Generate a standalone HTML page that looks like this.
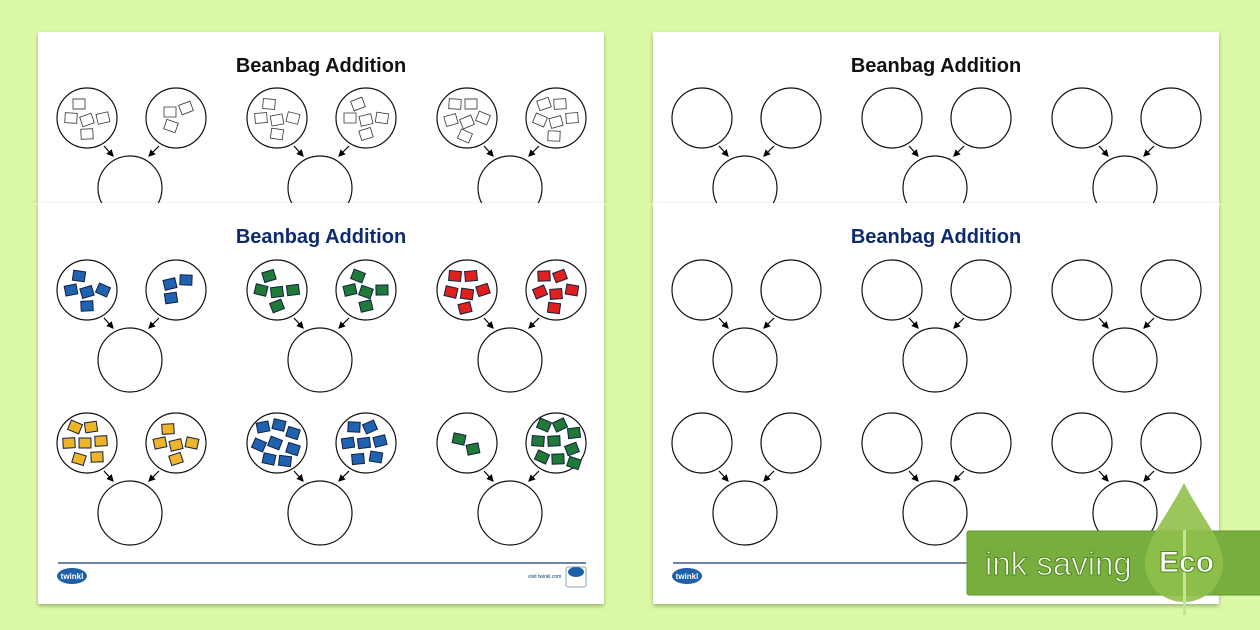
<!DOCTYPE html>
<html><head><meta charset="utf-8"><style>
body{margin:0;width:1260px;height:630px;overflow:hidden;background:#dcf9a8;}
svg{display:block}
text{font-family:"Liberation Sans",sans-serif}
</style></head><body>
<svg id="s" width="1260" height="630" viewBox="0 0 1260 630" xmlns="http://www.w3.org/2000/svg">
<defs>
<filter id="sh" x="-5%" y="-5%" width="110%" height="115%"><feDropShadow dx="0" dy="2" stdDeviation="2" flood-color="#556b2f" flood-opacity="0.5"/></filter>
<marker id="ar" markerWidth="6" markerHeight="6" refX="5" refY="3" orient="auto"><path d="M0,0 L6,3 L0,6 z" fill="#000"/></marker>
</defs>
<g id="back"></g>
<g id="front"></g>
<g id="eco">
<rect x="967" y="531" width="300" height="64" rx="2" fill="#78ae3e" stroke="#5f9a2a"/>
<path d="M1184,483 C1200,515 1223,540 1223,563 C1223,585 1206,602 1184,602 C1162,602 1145,585 1145,563 C1145,540 1168,515 1184,483 z" fill="#8fc04a" opacity="0.9"/>
<rect x="1183" y="530" width="3" height="85" fill="#c7e29a"/>
<text x="985" y="575" font-size="33" fill="#fff" stroke="#4f8a1e" stroke-width="1">ink saving</text>
<text x="1159" y="572" font-size="30" font-weight="bold" fill="#fff" stroke="#4f8a1e" stroke-width="1">Eco</text>
</g>
</svg>
<script>
const NS="http://www.w3.org/2000/svg";
function el(p,t,a){const e=document.createElementNS(NS,t);for(const k in a)e.setAttribute(k,a[k]);p.appendChild(e);return e;}
let seed=7;function rnd(){seed=(seed*9301+49297)%233280;return seed/233280;}
const pos={2:[[-8,-4],[6,6]],3:[[-6,-6],[10,-10],[-5,8]],5:[[-8,-14],[-16,0],[0,2],[16,0],[0,16]],6:[[-12,-14],[4,-14],[-16,2],[0,4],[16,0],[-2,18]],7:[[-12,-16],[4,-16],[-18,0],[-2,0],[14,-2],[-8,16],[10,14]],8:[[-14,-16],[2,-18],[16,-10],[-18,2],[-2,0],[16,6],[-8,16],[8,18]],9:[[-12,-18],[4,-18],[18,-10],[-18,-2],[-2,-2],[16,6],[-14,14],[2,16],[18,20]]};
function bags(g,cx,cy,n,col){for(const [dx,dy] of pos[n]){const a=(rnd()-0.5)*50;const r=el(g,"rect",{x:cx+dx-6,y:cy+dy-5,width:12,height:10,transform:`rotate(${a} ${cx+dx} ${cy+dy})`,fill:col||"#fff",stroke:col?"#102040":"#333","stroke-width":col?1:0.8});}}
function group(g,x0,y0,spec){
 const L=x0,R=x0+89,B=x0+43;
 el(g,"circle",{cx:L,cy:y0,r:30,fill:"#fff",stroke:"#111","stroke-width":1.2});
 el(g,"circle",{cx:R,cy:y0,r:30,fill:"#fff",stroke:"#111","stroke-width":1.2});
 el(g,"circle",{cx:B,cy:y0+70,r:32,fill:"#fff",stroke:"#111","stroke-width":1.2});
 el(g,"line",{x1:L+17,y1:y0+28,x2:L+26,y2:y0+38,stroke:"#000","stroke-width":1.2,"marker-end":"url(#ar)"});
 el(g,"line",{x1:R-17,y1:y0+28,x2:R-27,y2:y0+38,stroke:"#000","stroke-width":1.2,"marker-end":"url(#ar)"});
 if(spec){bags(g,L,y0,spec[0],spec[2]);bags(g,R,y0,spec[1],spec[2]);}
}
function page(g,x,y,h,title,tcol,rows,specs,footer){
 el(g,"rect",{x:x,y:y,width:566,height:h,fill:"#fff",filter:"url(#sh)"});
 const t=el(g,"text",{x:x+283,y:y+40,"text-anchor":"middle","font-size":20,"font-weight":"bold",fill:tcol});t.textContent=title;
 rows.forEach((ry,ri)=>{for(let k=0;k<3;k++)group(g,x+49+190*k,y+ry,specs?specs[ri][k]:null);});
 if(footer){el(g,"line",{x1:x+20,y1:y+360,x2:x+548,y2:y+360,stroke:"#1a3a6a","stroke-width":1.2});
  el(g,"ellipse",{cx:x+34,cy:y+373,rx:15,ry:8,fill:"#1d5fa8"});
  const tw=el(g,"text",{x:x+34,y:y+376,"text-anchor":"middle","font-size":8,"font-weight":"bold",fill:"#fff"});tw.textContent="twinkl";}
}
const b=document.getElementById("back"),f=document.getElementById("front");
const outl=[[[5,3],[5,5],[6,6]]];
const col=[[[5,3,"#1f63b0"],[5,5,"#1e7a36"],[6,6,"#e0201c"]],[[7,5,"#f0b428"],[8,7,"#1f63b0"],[2,9,"#1e7a36"]]];
// back pages
const cp=el(b,"clipPath",{id:"cb"});el(cp,"rect",{x:0,y:0,width:1260,height:203});
const bg=el(b,"g",{"clip-path":"url(#cb)"});
page(bg,38,32,260,"Beanbag Addition","#111",[86],outl,false);
page(bg,653,32,260,"Beanbag Addition","#111",[86],null,false);
page(f,38,203,401,"Beanbag Addition","#0e2a6e",[87,240],col,true);
page(f,653,203,401,"Beanbag Addition","#0e2a6e",[87,240],null,true);
const fr=el(f,"text",{x:528,y:578,"font-size":5,fill:"#1a3a6a"});fr.textContent="visit twinkl.com";
el(f,"rect",{x:566,y:567,width:20,height:20,fill:"#fff",stroke:"#8aa",rx:2});
el(f,"ellipse",{cx:576,cy:572,rx:8,ry:5,fill:"#1d5fa8"});
</script>
</body></html>
